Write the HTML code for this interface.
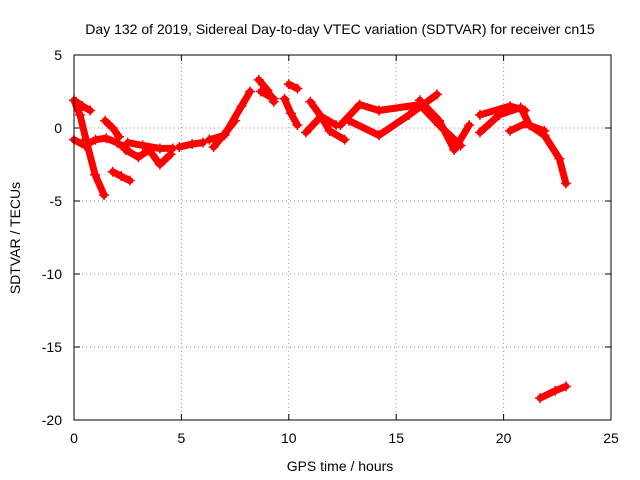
<!DOCTYPE html>
<html><head><meta charset="utf-8"><style>
body{margin:0;background:#fff;}
svg{display:block;font-family:"Liberation Sans",sans-serif;}
</style></head><body>
<svg id="chart" width="640" height="480">
<rect width="640" height="480" fill="#fff"/>
<text x="340" y="34" font-size="14" text-anchor="middle">Day 132 of 2019, Sidereal Day-to-day VTEC variation (SDTVAR) for receiver cn15</text>
<text x="340" y="471" font-size="14" text-anchor="middle">GPS time / hours</text>
<text x="20" y="238" font-size="14" text-anchor="middle" transform="rotate(-90 20 238)">SDTVAR / TECUs</text>
<g id="grid"></g><g id="ticks"></g><g id="marks"></g>
<rect x="74" y="55" width="537" height="365" fill="none" stroke="#000" stroke-width="1"/>
</svg>
<script>
const xTicks=[0,5,10,15,20,25];
const yTicks=[5,0,-5,-10,-15,-20];
const trackTimes=[
[0,0.28,0.56,0.98,1.4],
[0,0.5,1.0,1.5,2.0,2.5],
[0.1,0.4,0.75],
[1.45,1.8,2.1],
[1.8,2.2,2.6],
[2.4,3.0,3.5,4.0,4.5],
[2.5,3.2,4.0,4.6],
[4.9,5.5,6.0],
[6.3,7.0,7.8,8.2],
[6.5,7.0,7.5],
[8.6,9.0,9.3],
[8.7,9.3],
[9.8,10.1,10.4],
[10.0,10.4],
[11.0,11.5,11.9,12.6],
[10.8,11.5,12.2],
[12.4,13.3,14.2],
[12.8,14.2,15.6,16.9],
[14.2,16.1,17.0,18.0],
[16.1,17.0,17.7,18.4],
[18.9,19.8,20.8,21.2,21.9,22.6,22.9],
[18.9,20.3,21.0],
[20.3,21.0,21.9],
[21.7,22.4,22.9]
];
const trackValues=[
[1.9,0.9,-0.8,-3.2,-4.6],
[-0.8,-1.2,-0.8,-0.7,-1.0,-1.5],
[1.8,1.5,1.2],
[0.5,0,-0.6],
[-3.0,-3.3,-3.6],
[-1.5,-2.0,-1.5,-2.5,-1.8],
[-1.0,-1.2,-1.4,-1.4],
[-1.3,-1.1,-1.0],
[-0.8,-0.5,1.5,2.5],
[-1.3,-0.4,0.5],
[3.3,2.6,1.8],
[2.5,2.0],
[2.0,1.0,0.2],
[3.0,2.7],
[1.8,0.8,-0.2,-0.8],
[-0.3,0.8,0.2],
[0.2,1.6,1.2],
[0.5,-0.5,0.9,2.3],
[1.2,1.6,0.2,-1.2],
[1.9,0.5,-1.5,0.2],
[-0.3,0.9,1.4,0.2,-0.5,-2.1,-3.8],
[0.9,1.5,1.2],
[-0.2,0.3,-0.2],
[-18.5,-18.0,-17.7]
];
const X0=74,X1=611,Y0=420,Y1=55;
const xs=t=>X0+(t-0)/25*(X1-X0);
const ys=v=>Y0-(v+20)/25*(Y0-Y1);
const NS="http://www.w3.org/2000/svg";
const grid=document.getElementById('grid'),ticks=document.getElementById('ticks'),marks=document.getElementById('marks');
function mk(tag,attrs,parent){const e=document.createElementNS(NS,tag);for(const k in attrs)e.setAttribute(k,attrs[k]);parent.appendChild(e);return e;}
xTicks.forEach(t=>{const x=xs(t);
 if(t>0&&t<25){const g=mk('line',{x1:x,x2:x,y1:Y1,y2:Y0,stroke:'#999','stroke-dasharray':'1,3'},grid);
 
 }
 const l=mk('text',{x:x,y:443,'font-size':14,'text-anchor':'middle'},ticks);l.textContent=t;
 
 
 mk('line',{x1:x,x2:x,y1:Y0,y2:Y0-6,stroke:'#000'},ticks);mk('line',{x1:x,x2:x,y1:Y1,y2:Y1+6,stroke:'#000'},ticks);
});
yTicks.forEach(v=>{const y=ys(v);
 if(v>-20&&v<5){const g=mk('line',{x1:X0,x2:X1,y1:y,y2:y,stroke:'#999','stroke-dasharray':'1,3'},grid);
 
 }
 const l=mk('text',{x:62,y:y+5,'font-size':14,'text-anchor':'end'},ticks);l.textContent=v;
 
 
 mk('line',{x1:X0,x2:X0+6,y1:y,y2:y,stroke:'#000'},ticks);mk('line',{x1:X1,x2:X1-6,y1:y,y2:y,stroke:'#000'},ticks);
});
trackTimes.forEach((ts,i)=>{const vs=trackValues[i];
 const pts=ts.map((t,j)=>xs(t).toFixed(1)+','+ys(vs[j]).toFixed(1)).join(' ');
 const p=mk('polyline',{points:pts,fill:'none',stroke:'#f00','stroke-width':7,'stroke-linejoin':'round','stroke-linecap':'round'},marks);
 
 
 ts.forEach((t,j)=>{const x=xs(t),y=ys(vs[j]);
  const m=mk('path',{d:`M${x-5},${y}h10M${x},${y-5}v10`,stroke:'#f00','stroke-width':1.5},marks);
  
  
 });
});
</script>
</body></html>
